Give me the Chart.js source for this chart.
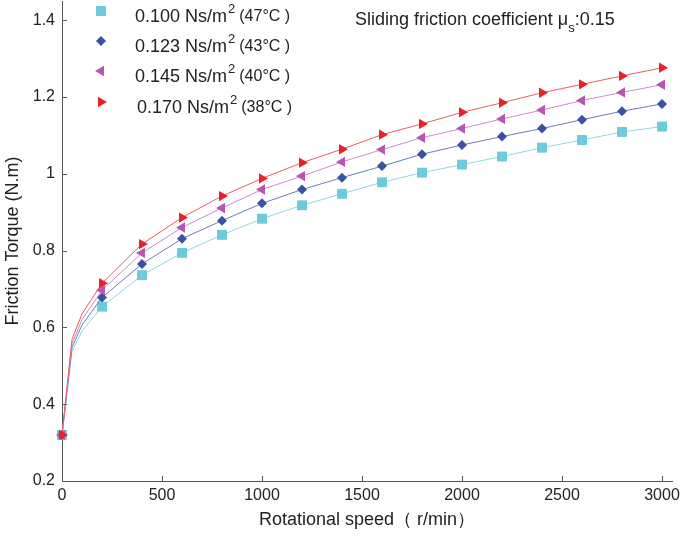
<!DOCTYPE html>
<html>
<head>
<meta charset="utf-8">
<script src="https://cdn.jsdelivr.net/npm/chart.js@4"></script>
<style>
  html, body { margin: 0; padding: 0; background: #fff; }
  #wrap { width: 685px; height: 535px; }
</style>
</head>
<body>
<div id="wrap"><canvas id="chart"></canvas></div>
<script>
// rotational speed (r/min)
const speeds = [0, 50, 100, 200, 400, 600, 800, 1000, 1200, 1400, 1600, 1800, 2000, 2200, 2400, 2600, 2800, 3000];
// markers are only drawn at these speeds
const markedSpeeds = [0, 200, 400, 600, 800, 1000, 1200, 1400, 1600, 1800, 2000, 2200, 2400, 2600, 2800, 3000];

// friction torque (N.m) for each viscosity
const torque100 = [0.32, 0.538, 0.590, 0.654, 0.736, 0.794, 0.841, 0.883, 0.918, 0.948, 0.978, 1.003, 1.024, 1.045, 1.068, 1.088, 1.109, 1.123];
const torque123 = [0.32, 0.548, 0.606, 0.678, 0.765, 0.831, 0.878, 0.923, 0.959, 0.990, 1.020, 1.051, 1.075, 1.097, 1.118, 1.141, 1.163, 1.182];
const torque145 = [0.32, 0.558, 0.620, 0.697, 0.794, 0.860, 0.911, 0.959, 0.994, 1.031, 1.063, 1.094, 1.118, 1.143, 1.166, 1.191, 1.212, 1.232];
const torque170 = [0.32, 0.569, 0.635, 0.715, 0.817, 0.886, 0.942, 0.988, 1.029, 1.064, 1.102, 1.130, 1.160, 1.185, 1.211, 1.233, 1.255, 1.276];

const viscosities = ["0.100", "0.123", "0.145", "0.170"];
const temperatures = ["47", "43", "40", "38"];

const xTicks = [0, 500, 1000, 1500, 2000, 2500, 3000];
const yTicks = [0.2, 0.4, 0.6, 0.8, 1, 1.2, 1.4];

const FONT = '"Liberation Sans", Arial, sans-serif';
const TEXT = "#222";
const AXIS = "#555";

// marker look per series
const styles = [
    { line: "#93d5e4", mark: "#6ccadd", pointStyle: "rect", rotation: 0, radius: 7 },
    { line: "#6a7cbc", mark: "#3b51a3", pointStyle: "rectRot", rotation: 0, radius: 5 },
    { line: "#cc8acb", mark: "#b955b1", pointStyle: "triangle", rotation: -90, radius: 6 },
    { line: "#ec5c5c", mark: "#e8212b", pointStyle: "triangle", rotation: 90, radius: 6 }
];

function makeSet(values, i) {
    const s = styles[i];
    const radii = speeds.map(x => (markedSpeeds.includes(x) ? s.radius : 0));
    return {
        label: viscosities[i],
        data: speeds.map((x, k) => ({ x: x, y: values[k] })),
        borderColor: s.line,
        borderWidth: 1,
        backgroundColor: s.mark,
        pointBackgroundColor: s.mark,
        pointBorderWidth: 0,
        pointStyle: s.pointStyle,
        pointRotation: s.rotation,
        pointRadius: radii,
        pointHoverRadius: radii,
        tension: 0,
        clip: false,
        order: 4 - i
    };
}

// drop the automatic label overflow padding so the plot box sits where we want it
function noPadding(scale) {
    scale.paddingTop = 0;
    scale.paddingBottom = 0;
    scale.paddingLeft = 0;
    scale.paddingRight = 0;
}

// inward ticks, legend box and annotation
const decorations = {
    id: "decorations",
    afterDraw(chart) {
        const ctx = chart.ctx;
        const xs = chart.scales.x;
        const ys = chart.scales.y;
        const area = chart.chartArea;

        ctx.save();
        ctx.strokeStyle = AXIS;
        ctx.lineWidth = 1;
        ctx.beginPath();
        yTicks.forEach(v => {
            const py = Math.round(ys.getPixelForValue(v)) + 0.5;
            ctx.moveTo(area.left, py);
            ctx.lineTo(area.left + 5, py);
        });
        xTicks.forEach(v => {
            const px = Math.round(xs.getPixelForValue(v)) + 0.5;
            ctx.moveTo(px, area.bottom);
            ctx.lineTo(px, area.bottom - 5);
        });
        ctx.stroke();

        // legend
        const rowY = [15, 45, 75, 106];
        ctx.textBaseline = "middle";
        viscosities.forEach((v, i) => {
            const s = styles[i];
            const y = rowY[i];
            ctx.fillStyle = s.mark;
            Chart.helpers.drawPoint(ctx, {
                pointStyle: s.pointStyle,
                rotation: s.rotation,
                radius: s.radius,
                borderWidth: 0
            }, 101, y - 4);

            ctx.fillStyle = TEXT;
            let x = i === 3 ? 137 : 135;
            ctx.font = "18px " + FONT;
            const main = v + " Ns/m";
            ctx.fillText(main, x, y + 2);
            x += ctx.measureText(main).width + 1;
            ctx.font = "13px " + FONT;
            ctx.fillText("2", x, y - 6);
            x += ctx.measureText("2").width + 4;
            ctx.font = "16px " + FONT;
            ctx.fillText("(" + temperatures[i] + "°C )", x, y + 2);
        });

        // sliding friction note
        let nx = 355;
        const ny = 20;
        ctx.font = "18px " + FONT;
        const note = "Sliding friction coefficient μ";
        ctx.fillText(note, nx, ny);
        nx += ctx.measureText(note).width;
        ctx.font = "13px " + FONT;
        ctx.fillText("s", nx, ny + 8);
        nx += ctx.measureText("s").width;
        ctx.font = "18px " + FONT;
        ctx.fillText(":0.15", nx, ny);
        ctx.restore();
    }
};

new Chart(document.getElementById("chart"), {
    type: "line",
    data: {
        datasets: [
            makeSet(torque100, 0),
            makeSet(torque123, 1),
            makeSet(torque145, 2),
            makeSet(torque170, 3)
        ]
    },
    options: {
        responsive: true,
        maintainAspectRatio: false,
        animation: false,
        layout: { autoPadding: false, padding: { top: 1, right: 13, left: 0, bottom: 0 } },
        plugins: {
            legend: { display: false },
            tooltip: { enabled: false }
        },
        scales: {
            x: {
                type: "linear",
                min: 0,
                max: 3050,
                afterFit: scale => { scale.height = 54; noPadding(scale); },
                afterBuildTicks: scale => { scale.ticks = xTicks.map(v => ({ value: v })); },
                grid: { display: false, drawTicks: false },
                border: { display: true, color: AXIS, width: 1 },
                ticks: {
                    padding: 5,
                    color: TEXT,
                    font: { family: FONT, size: 16 },
                    maxRotation: 0,
                    callback: v => String(v)
                },
                title: {
                    display: true,
                    text: "Rotational speed（ r/min）",
                    color: TEXT,
                    font: { family: FONT, size: 18 },
                    padding: { top: 0, bottom: 4 }
                }
            },
            y: {
                type: "linear",
                min: 0.2,
                max: 1.45,
                afterFit: scale => { scale.width = 62; noPadding(scale); },
                afterBuildTicks: scale => { scale.ticks = yTicks.map(v => ({ value: v })); },
                grid: { display: false, drawTicks: false },
                border: { display: true, color: AXIS, width: 1 },
                ticks: {
                    padding: 7,
                    color: TEXT,
                    font: { family: FONT, size: 16 },
                    callback: v => String(Math.round(v * 10) / 10)
                },
                title: {
                    display: true,
                    text: "Friction Torque (N.m)",
                    color: TEXT,
                    font: { family: FONT, size: 18 },
                    padding: { top: 2, bottom: 0 }
                }
            }
        }
    },
    plugins: [decorations]
});
</script>
</body>
</html>
